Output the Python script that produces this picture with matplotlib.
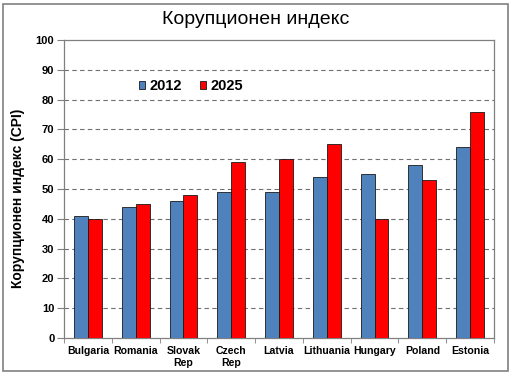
import matplotlib
matplotlib.use("Agg")
import matplotlib.pyplot as plt
import numpy as np
from matplotlib.patches import Rectangle

categories = ["Bulgaria", "Romania", "Slovak\nRep", "Czech\nRep", "Latvia",
              "Lithuania", "Hungary", "Poland", "Estonia"]
series_names = ["2012", "2025"]
values_2012 = [41, 44, 46, 49, 49, 54, 55, 58, 64]
values_2025 = [40, 45, 48, 59, 60, 65, 40, 53, 76]
yticks = [0, 10, 20, 30, 40, 50, 60, 70, 80, 90, 100]
title = "Корупционен индекс"
ylabel = "Корупционен индекс (CPI)"

plt.rcParams['font.family'] = ['Liberation Sans', 'DejaVu Sans']

fig = plt.figure(figsize=(5.12, 3.74), dpi=100)
ax = fig.add_axes([64/512, 1-338/374, 430/512, 298/374])

x = np.arange(len(categories))
w = 0.29
ax.bar(x - w/2, values_2012, w, color="#4F81BD", edgecolor="#1a1a1a", linewidth=0.6,
       label=series_names[0], zorder=3)
ax.bar(x + w/2, values_2025, w, color="#FF0000", edgecolor="#1a1a1a", linewidth=0.6,
       label=series_names[1], zorder=3)

ax.set_xlim(-0.5, len(categories) - 0.5)
ax.set_ylim(0, 100)
ax.set_yticks(yticks)
ax.set_yticklabels([str(t) for t in yticks], fontsize=8, fontweight="bold")
ax.set_xticks(x)
ax.set_xticklabels(categories, fontsize=7.6, fontweight="bold", linespacing=1.15)
ax.set_xticks(np.arange(-0.5, len(categories), 1), minor=True)
ax.tick_params(axis="x", which="major", length=0, pad=6)
ax.tick_params(axis="x", which="minor", length=3.5, color="#808080")
ax.tick_params(axis="y", length=5, color="#808080", pad=2)

for t in yticks[1:-1]:
    ax.axhline(t, color="#707070", linestyle=(0, (4, 3)), linewidth=0.8, zorder=1)

for s in ax.spines.values():
    s.set_color("#808080")
    s.set_linewidth(0.9)

fig.text(18/512, 1-198/374, ylabel, rotation=90, ha="center", va="center",
         fontsize=10, fontweight="bold")

fig.text(0.5, 1-20/374, title, ha="center", va="center", fontsize=14)

leg = ax.legend(loc="center left", bbox_to_anchor=((139-64)/430, (338-86)/298), ncol=2,
                frameon=False, prop={"weight": "bold", "size": 10.5},
                handlelength=0.42, handleheight=0.42, handletextpad=0.3,
                columnspacing=1.25, borderpad=0, borderaxespad=0)

fig.patches.append(Rectangle((3/512, 3/374), 505/512, 367/374, transform=fig.transFigure,
                             fill=False, edgecolor="#808080", linewidth=1.2))

fig.savefig("out.png", dpi=100)
